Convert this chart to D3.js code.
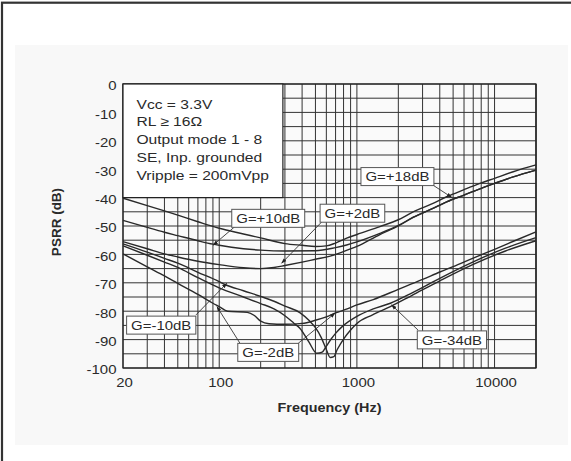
<!DOCTYPE html>
<html><head><meta charset="utf-8">
<script src="https://cdn.jsdelivr.net/npm/d3@7"></script>
<style>html,body{margin:0;padding:0;background:#fff;}svg{display:block;}</style>
</head><body>
<svg id="c" width="571" height="461"></svg>
<script>
// ---------- data ----------
const xTickValues = [20, 100, 1000, 10000];
const xTickLabels = ["20", "100", "1000", "10000"];
const yTickValues = [0, -10, -20, -30, -40, -50, -60, -70, -80, -90, -100];
const yTickLabels = ["0", "-10", "-20", "-30", "-40", "-50", "-60", "-70", "-80", "-90", "-100"];

// G=+18dB
const g18Freq = [20,30,40,50,70,100,150,200,300,400,500,600,700,843,1000,1470,2000,2566,3500,4487,6000,7830,10000,13660,20000];
const g18Val  = [-40.2,-42.8,-44.7,-46.2,-48.5,-50.8,-52.8,-54.2,-56.2,-56.8,-57.2,-57.0,-56.0,-54.3,-53.0,-50.2,-47.8,-45.0,-42.2,-39.7,-37.2,-35.0,-33.2,-30.9,-28.5];
// G=+10dB
const g10Freq = [20,30,40,50,70,90,100,150,200,300,500,700,843,1000,1470,2000,2566,3500,4487,6000,7830,10000,13660,20000];
const g10Val  = [-48.0,-50.5,-52.2,-53.4,-55.2,-56.4,-56.8,-58.0,-58.5,-58.8,-58.7,-57.6,-56.7,-55.6,-52.6,-49.8,-46.9,-44.0,-41.5,-39.1,-36.9,-35.0,-32.7,-30.3];
// G=+2dB
const g2Freq = [20,30,40,50,70,100,150,200,250,300,400,500,640,800,1000,1470,2000,2566,3500,4487,6000,7830,10000,13660,20000];
const g2Val  = [-55.5,-58.0,-59.8,-60.9,-62.4,-63.6,-64.7,-65.0,-64.6,-63.9,-62.7,-61.7,-60.6,-59.0,-57.2,-53.0,-50.0,-47.0,-44.0,-41.5,-39.1,-36.9,-35.0,-32.7,-30.3];
// G=-2dB
const gm2Freq = [20,30,40,50,70,90,100,115,160,180,200,230,300,400,500,600,700,850,1000,1315,2000,3000,4000,5000,7000,10000,14000,20000];
const gm2Val  = [-59.8,-64.4,-67.6,-70.2,-74.1,-77.2,-78.4,-80.0,-80.4,-81.5,-83.5,-84.4,-84.6,-84.3,-83.2,-82.0,-80.6,-79.2,-77.8,-75.9,-72.3,-68.8,-66.2,-64.3,-61.3,-58.2,-55.2,-52.1];
// G=-10dB
const gm10Freq = [20,30,40,50,70,100,110,150,200,250,300,385,450,500,550,600,640,680,720,800,900,1000,1300,1750,2500,4000,7000,12000,20000];
const gm10Val  = [-56.3,-59.2,-61.4,-63.1,-66.3,-69.6,-70.6,-72.8,-74.8,-76.5,-78.2,-80.5,-83.3,-85.8,-89.2,-93.5,-96.3,-96.0,-93.5,-89.8,-86.6,-84.3,-81.3,-78.4,-74.5,-69.3,-63.5,-58.8,-55.2];
// G=-34dB
const gm34Freq = [20,30,40,50,70,100,150,200,250,300,350,385,450,510,560,600,650,700,800,1000,1300,1750,2500,4000,7000,12000,20000];
const gm34Val  = [-57.0,-60.3,-62.7,-64.6,-68.2,-71.8,-75.0,-77.3,-79.2,-81.6,-84.3,-86.0,-91.0,-94.8,-94.4,-92.3,-89.8,-87.8,-85.0,-81.8,-79.3,-77.2,-73.6,-68.4,-62.6,-57.8,-54.1];

// annotation labels (data units)
const labelText = ["G=+10dB", "G=+2dB", "G=+18dB", "G=-10dB", "G=-2dB", "G=-34dB"];
const labelFreq = [227, 928, 1970, 37.9, 227, 4900];
const labelVal  = [-47.3, -45.5, -32.6, -84.9, -94.5, -90.1];
// arrows: from (freq, dB) to (freq, dB)
const arrowFromFreq = [130, 557, 3568, 67.8, 141.5, 375, 2776];
const arrowFromVal  = [-50.2, -48.5, -35.6, -81.3, -91.3, -91.3, -86.6];
const arrowToFreq   = [90.5, 284, 4876, 113.3, 96.3, 693, 1788];
const arrowToVal    = [-56.7, -63.1, -39.9, -70.2, -78.4, -80.7, -77.8];

const infoLines = ["Vcc = 3.3V", "RL \u2265 16\u03A9", "Output mode 1 - 8", "SE, Inp. grounded", "Vripple = 200mVpp"];
const infoFreqMax = 290;   // info box right edge (Hz)
const infoValMin = -40;    // info box bottom (dB)

// ---------- drawing ----------
const svg = d3.select("#c");
const FONT = "'Liberation Sans', Arial, Helvetica, sans-serif";
const SX = 1.15;
const ink = "#2a2a2a";

// outer frame & panel
svg.append("rect").attr("x", 2).attr("y", 2.7).attr("width", 620).attr("height", 520)
  .attr("fill", "#fff").attr("stroke", "#333").attr("stroke-width", 2.2);
svg.append("rect").attr("x", 15).attr("y", 45).attr("width", 553).attr("height", 400).attr("fill", "#f8f8f8");

const x = d3.scaleLog().domain([20, 20000]).range([123, 536]);
const y = d3.scaleLinear().domain([-100, 0]).range([368, 84]);

// grid
const vGrid = [];
[10, 100, 1000, 10000].forEach(d => { for (let m = 1; m <= 9; m++) { const v = d * m; if (v >= 20 && v <= 20000) vGrid.push(v); } });
vGrid.push(20000);
const g = svg.append("g");
g.append("rect").attr("x", x(20)).attr("y", y(0)).attr("width", x(20000) - x(20)).attr("height", y(-100) - y(0)).attr("fill", "#fafafa");
g.selectAll("line.v").data(vGrid).join("line")
  .attr("x1", d => x(d)).attr("x2", d => x(d)).attr("y1", y(0)).attr("y2", y(-100))
  .attr("stroke", "#333").attr("stroke-width", 1);
g.selectAll("line.h").data(d3.range(0, -101, -5)).join("line")
  .attr("x1", x(20)).attr("x2", x(20000)).attr("y1", d => y(d)).attr("y2", d => y(d))
  .attr("stroke", "#333").attr("stroke-width", 1);
g.append("rect").attr("x", x(20)).attr("y", y(0)).attr("width", x(20000) - x(20)).attr("height", y(-100) - y(0))
  .attr("fill", "none").attr("stroke", "#222").attr("stroke-width", 1.2);

function stext(sel, px, py, txt, anchor, size, weight, sx) {
  return sel.append("text").attr("transform", `translate(${px},${py}) scale(${sx || SX},1)`)
    .attr("text-anchor", anchor).attr("font-family", FONT).attr("font-size", size)
    .attr("font-weight", weight || "normal").attr("fill", ink).text(txt);
}

// ticks
yTickValues.forEach((v, i) => stext(svg, 116.5, y(v) + 6.3, yTickLabels[i], "end", 13));
xTickValues.forEach((v, i) => stext(svg, x(v) + 1.5, 386.5, xTickLabels[i], "middle", 13));

// axis titles
stext(svg, 329.5, 411.5, "Frequency (Hz)", "middle", 12.5, "bold");
svg.append("text").attr("transform", `translate(60.5,${(y(0) + y(-100)) / 2 - 4}) rotate(-90)`)
  .attr("text-anchor", "middle").attr("font-family", FONT).attr("font-size", 13.5)
  .attr("font-weight", "bold").attr("fill", ink).text("PSRR (dB)");

// curves
const series = [[g18Freq, g18Val], [g10Freq, g10Val], [g2Freq, g2Val], [gm2Freq, gm2Val], [gm10Freq, gm10Val], [gm34Freq, gm34Val]];
const line = d3.line().x(d => x(d[0])).y(d => y(d[1])).curve(d3.curveMonotoneX);
series.forEach(([f, v]) => {
  svg.append("path").datum(f.map((ff, i) => [ff, v[i]])).attr("d", line)
    .attr("fill", "none").attr("stroke", "#2a2a2a").attr("stroke-width", 1.4).attr("stroke-linejoin", "round");
});

// info box
svg.append("rect").attr("x", x(20)).attr("y", y(0)).attr("width", x(infoFreqMax) - x(20)).attr("height", y(infoValMin) - y(0))
  .attr("fill", "#fff").attr("stroke", "#222").attr("stroke-width", 1.2);
infoLines.forEach((t, i) => stext(svg, x(20) + 13.5, y(0) + 24.5 + i * 17.9, t, "start", 13, "normal", 1.2));

// arrows
svg.append("defs").append("marker").attr("id", "ah").attr("viewBox", "0 0 10 10").attr("refX", 9).attr("refY", 5)
  .attr("markerWidth", 6).attr("markerHeight", 6).attr("orient", "auto")
  .append("path").attr("d", "M0,1.5 L10,5 L0,8.5 z").attr("fill", "#222");
arrowFromFreq.forEach((f, i) => {
  svg.append("line").attr("x1", x(f)).attr("y1", y(arrowFromVal[i])).attr("x2", x(arrowToFreq[i])).attr("y2", y(arrowToVal[i]))
    .attr("stroke", "#333").attr("stroke-width", 0.9).attr("marker-end", "url(#ah)");
});

// labels
labelText.forEach((t, i) => {
  const cx = x(labelFreq[i]), cy = y(labelVal[i]);
  const grp = svg.append("g");
  const r = grp.append("rect");
  const tx = stext(grp, cx, cy + 4.7, t, "middle", 13);
  const w = tx.node().getComputedTextLength() * SX + 9;
  const h = 18;
  r.attr("x", cx - w / 2).attr("y", cy - h / 2).attr("width", w).attr("height", h)
    .attr("fill", "#fff").attr("stroke", "#555").attr("stroke-width", 1);
});
</script>
</body></html>
